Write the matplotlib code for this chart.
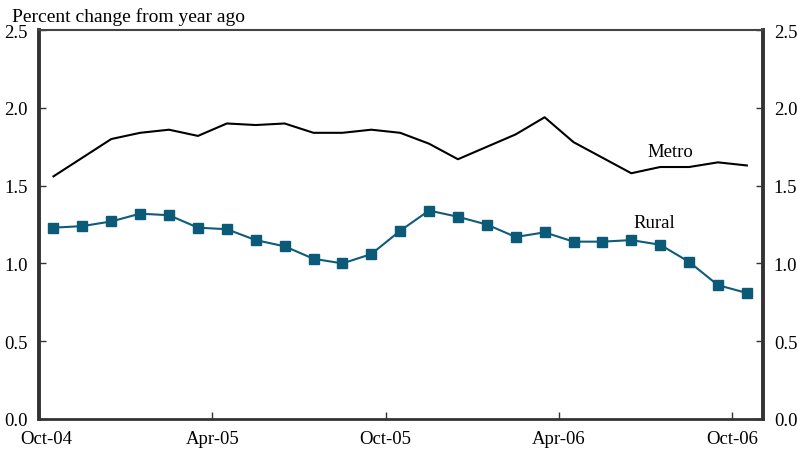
import matplotlib.pyplot as plt
import matplotlib.transforms as mtransforms

# monthly data, Oct-04 .. Oct-06 (percent change from year ago)
months = list(range(25))
metro = [1.56, 1.68, 1.80, 1.84, 1.86, 1.82, 1.90, 1.89, 1.90, 1.84, 1.84, 1.86, 1.84,
         1.77, 1.67, 1.75, 1.83, 1.94, 1.78, 1.68, 1.58, 1.62, 1.62, 1.65, 1.63]
rural = [1.23, 1.24, 1.27, 1.32, 1.31, 1.23, 1.22, 1.15, 1.11, 1.03, 1.00, 1.06, 1.21,
         1.34, 1.30, 1.25, 1.17, 1.20, 1.14, 1.14, 1.15, 1.12, 1.01, 0.86, 0.81]
tick_pos = [0, 6, 12, 18, 24]
tick_labels = ['Oct-04', 'Apr-05', 'Oct-05', 'Apr-06', 'Oct-06']
y_ticks = [0.0, 0.5, 1.0, 1.5, 2.0, 2.5]

plt.rcParams['font.family'] = ['Liberation Serif', 'DejaVu Serif']

fig = plt.figure(figsize=(7.97, 4.52), dpi=100)
ax = fig.add_axes([0.049, 0.071, 0.908, 0.860])

x = [m + 0.5 for m in months]  # points sit mid-month
ax.plot(x, metro, color='black', lw=1.5)
ax.plot(x, rural, color='#0e5c7a', lw=1.5, marker='s', markersize=7.5,
        markerfacecolor='#0b5a78', markeredgecolor='#0b5a78')

ax.text(21.85, 1.72, 'Metro', fontsize=13.5, ha='center', va='center')
ax.text(21.3, 1.26, 'Rural', fontsize=13.5, ha='center', va='center')

ax.set_xlim(0, 25.05)
ax.set_ylim(0, 2.5)
ax.set_xticks(tick_pos)
ax.set_xticklabels(tick_labels, fontsize=13.5)
ax.set_yticks(y_ticks)
ax.set_yticklabels(['%.1f' % v for v in y_ticks], fontsize=13.5)
ax.tick_params(axis='y', direction='in', length=5, width=1, color='#333333',
               right=True, labelright=True, pad=8)
ax.tick_params(axis='x', direction='in', length=5, width=1, color='#333333', pad=8)

# first date label is nudged right in the original
first = ax.get_xticklabels()[0]
first.set_transform(first.get_transform() +
                    mtransforms.ScaledTranslation(0.07, 0, fig.dpi_scale_trans))

for side in ['left', 'right']:
    ax.spines[side].set_linewidth(2.8)
    ax.spines[side].set_color('#333333')
ax.spines['bottom'].set_linewidth(2)
ax.spines['bottom'].set_color('#333333')
ax.spines['top'].set_linewidth(1.5)
ax.spines['top'].set_color('#444444')

fig.text(0.015, 0.962, 'Percent change from year ago', fontsize=14, ha='left', va='center')

plt.savefig('out.png', dpi=100)
